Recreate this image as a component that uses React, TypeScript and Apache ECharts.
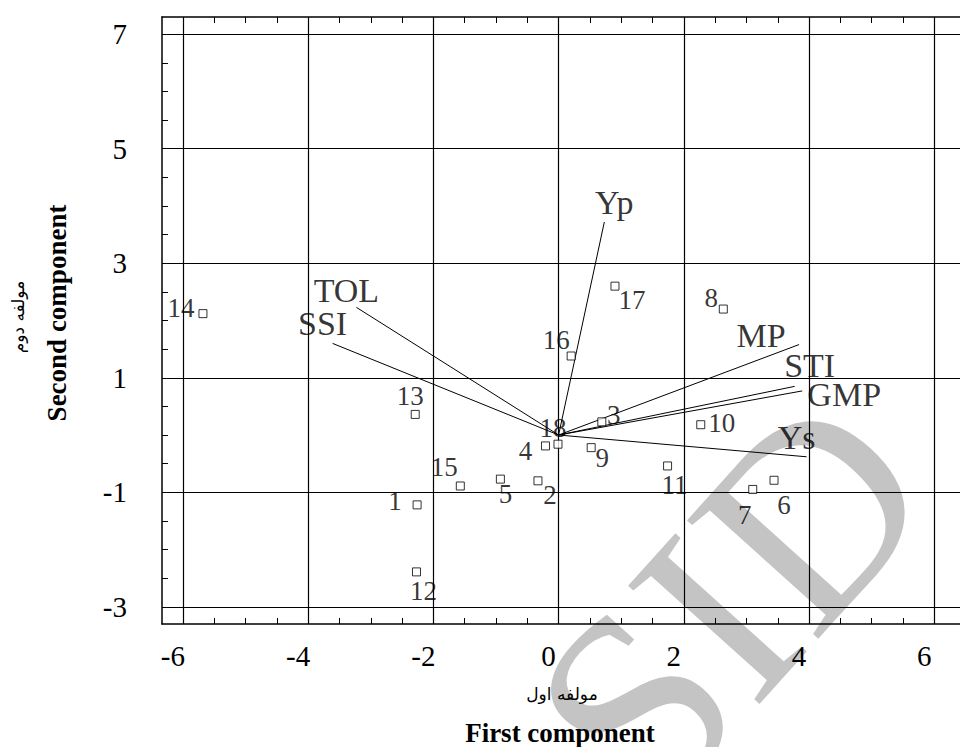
import React, { useEffect, useRef } from 'react';
import * as echarts from 'echarts';

// ---- data ----
const genotypes = ['1', '2', '3', '4', '5', '6', '7', '8', '9', '10', '11', '12', '13', '14', '15', '16', '17', '18'];
const pc1 = [-2.26, -0.33, 0.69, -0.21, -0.93, 3.44, 3.10, 2.63, 0.52, 2.27, 1.74, -2.27, -2.29, -5.68, -1.57, 0.20, 0.90, -0.01];
const pc2 = [-1.22, -0.80, 0.23, -0.19, -0.77, -0.79, -0.95, 2.20, -0.22, 0.18, -0.54, -2.39, 0.36, 2.12, -0.89, 1.38, 2.60, -0.16];

const traits = ['Yp', 'Ys', 'MP', 'GMP', 'STI', 'TOL', 'SSI'];
const traitPc1 = [0.73, 3.96, 3.84, 3.89, 3.77, -3.23, -3.61];
const traitPc2 = [3.72, -0.38, 1.58, 0.77, 0.85, 2.23, 1.60];

const xTickValues = [-6, -4, -2, 0, 2, 4, 6];
const yTickValues = [-3, -1, 1, 3, 5, 7];
const xMinorValues = [-6, -5.5, -5, -4.5, -4, -3.5, -3, -2.5, -2, -1.5, -1, -0.5, 0, 0.5, 1, 1.5, 2, 2.5, 3, 3.5, 4, 4.5, 5, 5.5, 6];
const yMinorValues = [-3, -2.5, -2, -1.5, -1, -0.5, 0, 0.5, 1, 1.5, 2, 2.5, 3, 3.5, 4, 4.5, 5, 5.5, 6, 6.5, 7];

const xAxisTitle = 'First component';
const xAxisTitleFa = 'مولفه اول';
const yAxisTitle = 'Second component';
const yAxisTitleFa = 'مولفه دوم';
const watermark = 'SID';

// ---- layout & style ----
const X_MIN = -6.334;
const X_MAX = 6.41;
const Y_MIN = -3.3;
const Y_MAX = 7.3;
const SERIF = 'Liberation Serif';
const CLEAR = 'rgba(0,0,0,0)';

const genotypeLabelOffsets: Record<string, [number, number]> = {
  '1': [-22, -4], '2': [12, 14], '3': [12, -7], '4': [-20, 5], '5': [5, 15], '6': [10, 25],
  '7': [-8, 26], '8': [-12, -11], '9': [11, 10], '10': [21, -2], '11': [7, 19], '12': [7, 19],
  '13': [-5, -18], '14': [-22, -6], '15': [-16, -19], '16': [-15, -16], '17': [17, 14], '18': [-5, -16],
};
const traitLabelOffsets: Record<string, [number, number]> = {
  Yp: [10, -20], Ys: [-10, -19], MP: [-38, -9], GMP: [42, 4], STI: [15, -21], TOL: [-10, -17], SSI: [-10, -20],
};

export default function App() {
  const ref = useRef<HTMLDivElement>(null);

  useEffect(() => {
    if (!ref.current) return;
    const chart = echarts.init(ref.current, undefined, { renderer: 'svg' });

    const vectorSeries = traits.map((t, i) => ({
      type: 'line',
      name: t,
      xAxisIndex: 0,
      yAxisIndex: 0,
      data: [[0, 0], [traitPc1[i], traitPc2[i]]],
      symbol: 'none',
      silent: true,
      lineStyle: { color: '#000', width: 1 },
      z: 3,
    }));

    const textStyle = (font: string) => ({
      font,
      fill: '#000',
      textAlign: 'center',
      textVerticalAlign: 'middle',
      align: 'center',
      verticalAlign: 'middle',
    });

    const option: any = {
      animation: false,
      backgroundColor: '#fff',
      textStyle: { fontFamily: SERIF },
      grid: { left: 162, top: 17, width: 813, height: 607, containLabel: false },
      xAxis: [
        {
          type: 'value',
          position: 'bottom',
          min: X_MIN,
          max: X_MAX,
          axisLine: { show: true, onZero: false, lineStyle: { color: '#000', width: 1.5 } },
          axisTick: { show: true, inside: true, length: 6, customValues: xMinorValues, lineStyle: { color: '#000', width: 1 } },
          axisLabel: {
            show: true,
            customValues: xTickValues,
            color: '#000',
            fontFamily: SERIF,
            fontSize: 29,
            margin: 17,
            padding: [0, 20, 0, 0],
          },
          splitLine: { show: true, lineStyle: { color: ['#000', CLEAR, CLEAR, CLEAR], width: 1.2 } },
        },
        {
          type: 'value',
          position: 'top',
          min: X_MIN,
          max: X_MAX,
          axisLine: { show: true, onZero: false, lineStyle: { color: '#000', width: 1.5 } },
          axisTick: { show: true, inside: true, length: 6, customValues: xMinorValues, lineStyle: { color: '#000', width: 1 } },
          axisLabel: { show: false },
          splitLine: { show: false },
        },
      ],
      yAxis: [
        {
          type: 'value',
          position: 'left',
          min: Y_MIN,
          max: Y_MAX,
          axisLine: { show: true, onZero: false, lineStyle: { color: '#000', width: 1.5 } },
          axisTick: { show: true, inside: true, length: 6, customValues: yMinorValues, lineStyle: { color: '#000', width: 1 } },
          axisLabel: {
            show: true,
            customValues: yTickValues,
            color: '#000',
            fontFamily: SERIF,
            fontSize: 29,
            margin: 35,
          },
          splitLine: { show: true, lineStyle: { color: ['#000', CLEAR, CLEAR, CLEAR], width: 1.2 } },
        },
      ],
      graphic: [
        {
          type: 'text',
          x: 730,
          y: 600,
          rotation: (48 * Math.PI) / 180,
          z: -1,
          silent: true,
          style: { text: watermark, ...textStyle(`270px ${SERIF}`), fill: '#c4c4c4' },
        },
        {
          type: 'text',
          x: 562,
          y: 694,
          style: { text: xAxisTitleFa, ...textStyle('17px "DejaVu Sans"') },
        },
        {
          type: 'text',
          x: 560,
          y: 733,
          style: { text: xAxisTitle, ...textStyle(`bold 27px ${SERIF}`) },
        },
        {
          type: 'text',
          x: 18,
          y: 317,
          rotation: Math.PI / 2,
          style: { text: yAxisTitleFa, ...textStyle('17px "DejaVu Sans"') },
        },
        {
          type: 'text',
          x: 57,
          y: 313,
          rotation: Math.PI / 2,
          style: { text: yAxisTitle, ...textStyle(`bold 27px ${SERIF}`) },
        },
      ],
      series: [
        ...vectorSeries,
        {
          type: 'scatter',
          name: 'traits',
          xAxisIndex: 0,
          yAxisIndex: 0,
          symbol: 'circle',
          symbolSize: 1,
          silent: true,
          itemStyle: { color: CLEAR },
          z: 5,
          data: traits.map((t, i) => ({
            name: t,
            value: [traitPc1[i], traitPc2[i]],
            label: { offset: traitLabelOffsets[t] },
          })),
          label: {
            show: true,
            position: 'inside',
            formatter: '{b}',
            color: '#000',
            fontFamily: SERIF,
            fontSize: 34,
          },
        },
        {
          type: 'scatter',
          name: 'genotypes',
          xAxisIndex: 0,
          yAxisIndex: 0,
          symbol: 'rect',
          symbolSize: 8,
          silent: true,
          itemStyle: { color: '#fff', borderColor: '#000', borderWidth: 1 },
          z: 6,
          data: genotypes.map((g, i) => ({
            name: g,
            value: [pc1[i], pc2[i]],
            label: { offset: genotypeLabelOffsets[g] },
          })),
          label: {
            show: true,
            position: 'inside',
            formatter: '{b}',
            color: '#000',
            fontFamily: SERIF,
            fontSize: 27,
          },
        },
      ],
    };

    chart.setOption(option);
    return () => chart.dispose();
  }, []);

  return (
    <div
      ref={ref}
      style={{ position: 'absolute', left: 0, top: 0, width: 960, height: 747, background: '#fff' }}
    />
  );
}
